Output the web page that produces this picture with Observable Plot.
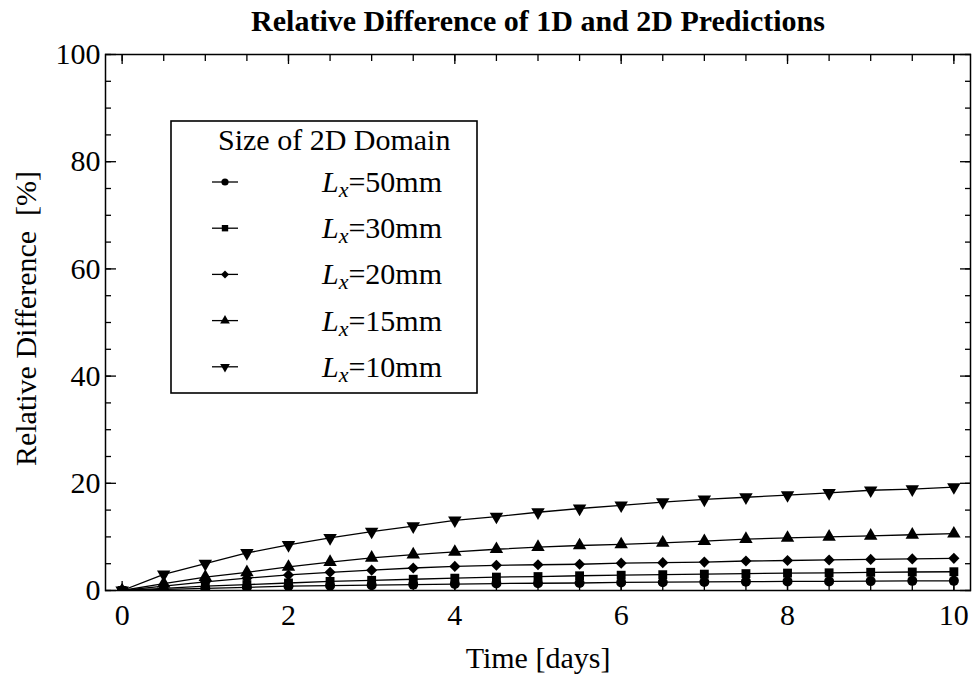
<!DOCTYPE html>
<html><head><meta charset="utf-8">
<script src="https://cdn.jsdelivr.net/npm/d3@7"></script>
<script src="https://cdn.jsdelivr.net/npm/@observablehq/plot@0.6"></script>
<style>
body{margin:0;background:#fff;}
#chart{width:976px;height:681px;}
#chart svg, #chart svg text{font-family:"Liberation Serif","Times New Roman",serif !important;}
</style></head><body><div id="chart"></div>
<script>
const FONT = "Liberation Serif, Times New Roman, serif";
const FS = 30;

const titleText = "Relative Difference of 1D and 2D Predictions";
const xLabelText = "Time [days]";
const yLabelText = "Relative Difference  [%]";
const legendTitle = "Size of 2D Domain";

const times = [0,0.5,1,1.5,2,2.5,3,3.5,4,4.5,5,5.5,6,6.5,7,7.5,8,8.5,9,9.5,10];
const seriesLabels = ["50mm","30mm","20mm","15mm","10mm"];
const valuesL50 = [0,0.2,0.4,0.6,0.8,0.9,1.0,1.1,1.2,1.3,1.35,1.4,1.5,1.55,1.6,1.65,1.7,1.7,1.75,1.8,1.8];
const valuesL30 = [0,0.4,0.8,1.1,1.4,1.7,1.9,2.1,2.3,2.5,2.6,2.75,2.85,2.95,3.05,3.15,3.25,3.3,3.4,3.45,3.5];
const valuesL20 = [0,0.8,1.6,2.3,2.9,3.4,3.8,4.2,4.5,4.7,4.8,4.9,5.1,5.2,5.3,5.5,5.6,5.7,5.8,5.9,6.0];
const valuesL15 = [0,1.3,2.5,3.4,4.4,5.3,6.1,6.7,7.2,7.7,8.1,8.4,8.6,8.9,9.2,9.6,9.8,10.0,10.2,10.4,10.6];
const valuesL10 = [0,3.0,5.0,7.0,8.5,9.8,11.0,12.0,13.1,13.8,14.6,15.3,15.9,16.5,17.0,17.4,17.8,18.2,18.7,18.9,19.3];
const seriesValues = [valuesL50, valuesL30, valuesL20, valuesL15, valuesL10];

const xTickLabels = [0,2,4,6,8,10];
const yTickLabels = [0,20,40,60,80,100];
const xMinorTicks = [0,0.5,1,1.5,2,2.5,3,3.5,4,4.5,5,5.5,6,6.5,7,7.5,8,8.5,9,9.5,10];
const yMinorTicks = [0,5,10,15,20,25,30,35,40,45,50,55,60,65,70,75,80,85,90,95,100];

const sqrt3 = Math.sqrt(3);
const triangleDown = {
  draw(context, size) {
    const y = -Math.sqrt(size / (sqrt3 * 3));
    context.moveTo(0, -y * 2);
    context.lineTo(-sqrt3 * y, y);
    context.lineTo(sqrt3 * y, y);
    context.closePath();
  }
};
const symbolObjs = [d3.symbolCircle, d3.symbolSquare, d3.symbolDiamond2, d3.symbolTriangle, triangleDown];

const table = seriesLabels.flatMap((s, i) => times.map((t, j) => ({series: s, t, v: seriesValues[i][j]})));

const lineMarks = seriesLabels.map(s =>
  Plot.line(table.filter(d => d.series === s), {x: "t", y: "v", stroke: "#000", strokeWidth: 1.3, clip: true}));
const dotMarks = seriesLabels.map((s, i) =>
  Plot.dot(table.filter(d => d.series === s), {x: "t", y: "v", symbol: symbolObjs[i], r: 5, fill: "#000", stroke: "none", clip: true}));

const chart = Plot.plot({
  width: 976, height: 681,
  marginLeft: 105, marginRight: 6, marginTop: 54, marginBottom: 91,
  x: {domain: [-0.2, 10.2]},
  y: {domain: [0, 100]},
  style: {fontFamily: FONT, fontSize: FS + "px", color: "#000", background: "#fff", overflow: "visible"},
  marks: [
    ...lineMarks,
    ...dotMarks,
    Plot.frame({stroke: "#000", strokeWidth: 1.5}),
    Plot.axisX(xTickLabels, {anchor: "bottom", tickSize: -9, text: null, label: null, strokeWidth: 1.3}),
    Plot.axisX(xMinorTicks, {anchor: "bottom", tickSize: -6, text: null, label: null, strokeWidth: 1.3}),
    Plot.axisX(xTickLabels, {anchor: "top", tickSize: -9, text: null, label: null, strokeWidth: 1.3}),
    Plot.axisX(xMinorTicks, {anchor: "top", tickSize: -6, text: null, label: null, strokeWidth: 1.3}),
    Plot.axisY(yTickLabels, {anchor: "left", tickSize: -11, text: null, label: null, strokeWidth: 1.3}),
    Plot.axisY(yMinorTicks, {anchor: "left", tickSize: -6, text: null, label: null, strokeWidth: 1.3}),
    Plot.axisY(yTickLabels, {anchor: "right", tickSize: -11, text: null, label: null, strokeWidth: 1.3}),
    Plot.axisY(yMinorTicks, {anchor: "right", tickSize: -6, text: null, label: null, strokeWidth: 1.3}),
    Plot.axisX(xTickLabels, {anchor: "bottom", tickSize: 0, tickPadding: 13, label: null, fontSize: FS, fontFamily: FONT, tickFormat: d => String(d)}),
    Plot.axisY(yTickLabels, {anchor: "left", tickSize: 0, tickPadding: 5, label: null, fontSize: FS, fontFamily: FONT, tickFormat: d => String(d)}),
    Plot.text([xLabelText], {frameAnchor: "bottom", dy: 68, lineAnchor: "middle", textAnchor: "middle", fontSize: FS, fontFamily: FONT, text: d => d}),
    Plot.text([yLabelText], {frameAnchor: "left", dx: -79, dy: -4, rotate: -90, lineAnchor: "middle", textAnchor: "middle", fontSize: FS, fontFamily: FONT, text: d => d}),
    Plot.text([titleText], {frameAnchor: "top", dy: -33, lineAnchor: "middle", textAnchor: "middle", fontSize: FS, fontWeight: "bold", fontFamily: FONT, text: d => d})
  ]
});

document.getElementById("chart").appendChild(chart);

// Legend overlay
const svg = d3.select(chart);
const lg = svg.append("g").attr("font-family", FONT).attr("font-size", FS).attr("fill", "#000").attr("text-anchor", "start");
lg.append("rect").attr("x", 171).attr("y", 121).attr("width", 306).attr("height", 272)
  .attr("fill", "#fff").attr("stroke", "#000").attr("stroke-width", 1.6);
lg.append("text").attr("x", 218).attr("y", 150).text(legendTitle);
const rowY0 = 182, rowStep = 46.2;
seriesLabels.forEach((s, i) => {
  const y = rowY0 + i * rowStep;
  lg.append("line").attr("x1", 212).attr("x2", 238).attr("y1", y).attr("y2", y).attr("stroke", "#000").attr("stroke-width", 1.3);
  lg.append("path").attr("transform", `translate(225,${y})`)
    .attr("d", d3.symbol(symbolObjs[i], Math.PI * 3.6 * 3.6)());
  const t = lg.append("text").attr("x", 322).attr("y", y + 10);
  t.append("tspan").attr("font-style", "italic").text("L");
  t.append("tspan").attr("font-style", "italic").attr("font-size", 22).attr("dy", 5).text("x");
  t.append("tspan").attr("dy", -5).text("=" + s);
});
</script></body></html>
